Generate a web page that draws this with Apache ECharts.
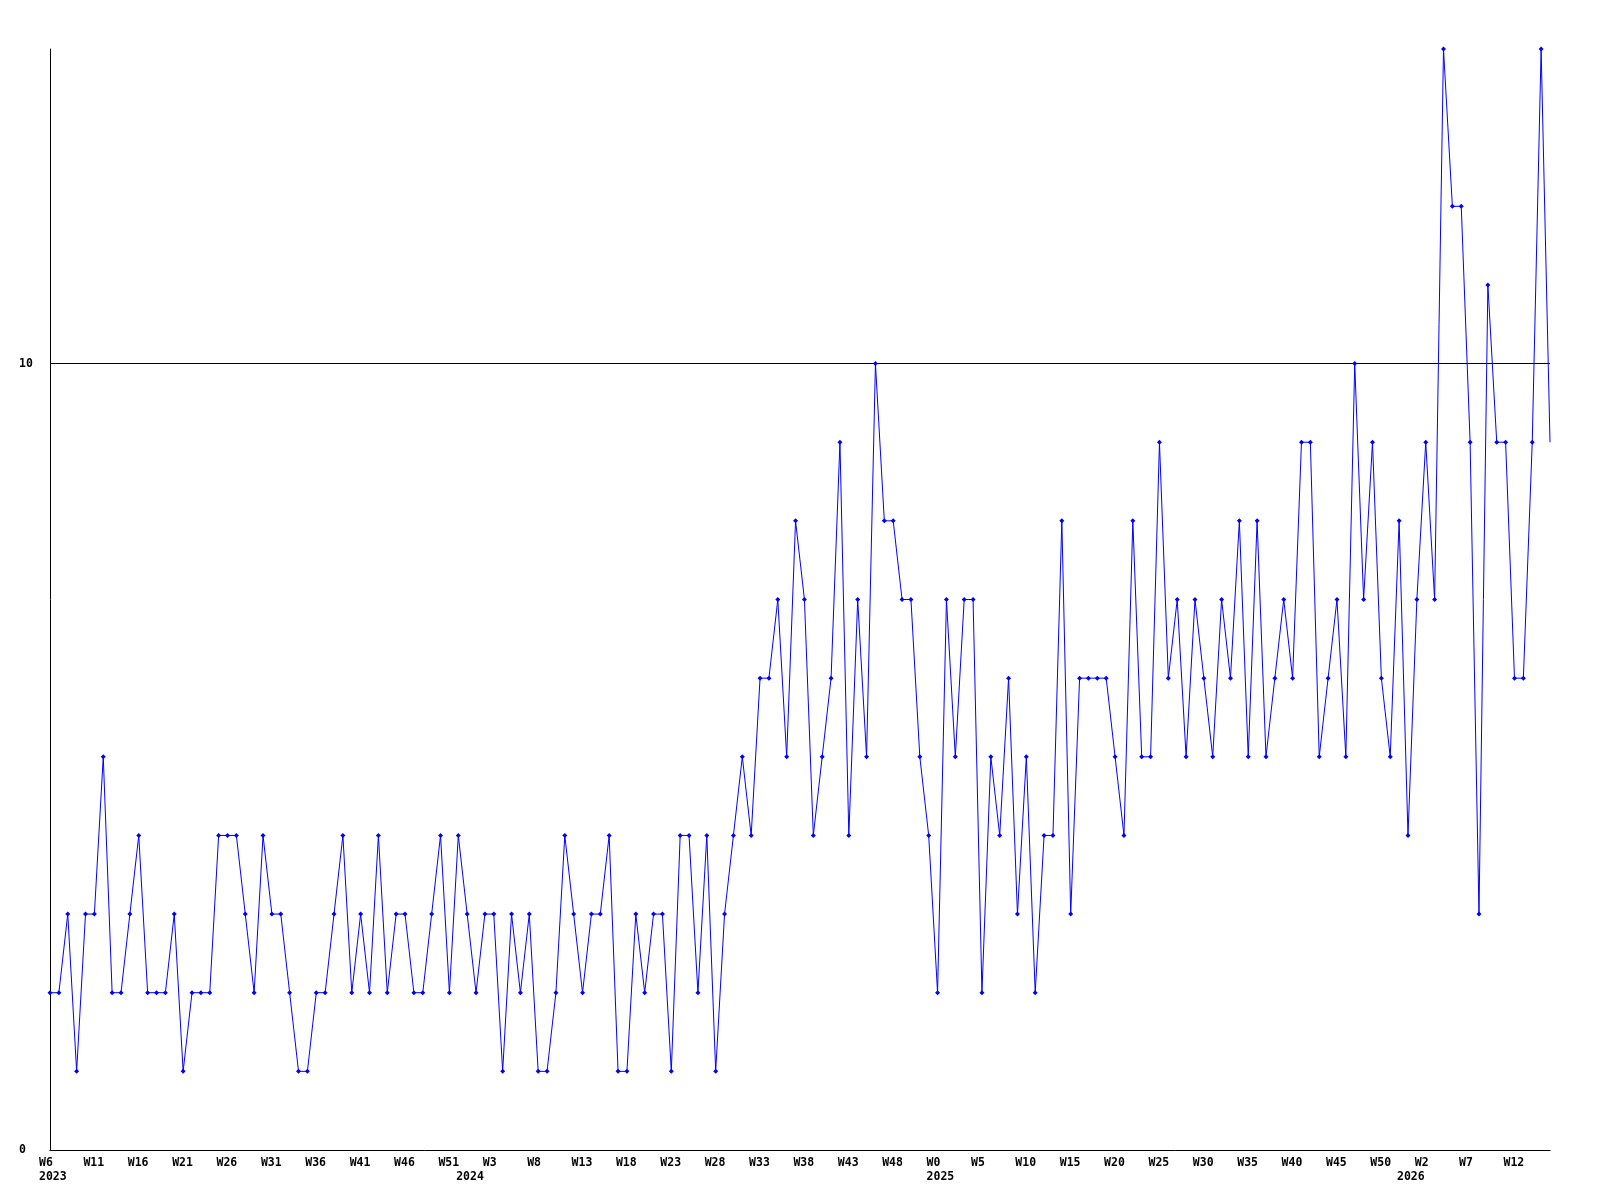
<!DOCTYPE html>
<html>
<head>
<meta charset="utf-8">
<script src="https://cdn.jsdelivr.net/npm/echarts@6/dist/echarts.min.js"></script>
<style>
html,body{margin:0;padding:0;background:#fff;}
#chart{width:1600px;height:1200px;}
</style>
</head>
<body>
<div id="chart"></div>
<script>
// Years and the week numbers covered in each
const years = ['2023', '2024', '2025', '2026'];
const weekFirst = [6, 0, 0, 0];
const weekLast = [52, 52, 52, 16];

// Weekly values per year
const values2023 = [2,2,3,1,3,3,5,2,2,3,4,2,2,2,3,1,2,2,2,4,4,4,3,2,4,3,3,2,1,1,2,2,3,4,2,3,2,4,2,3,3,2,2,3,4,2,4];
const values2024 = [3,2,3,3,1,3,2,3,1,1,2,4,3,2,3,3,4,1,1,3,2,3,3,1,4,4,2,4,1,3,4,5,4,6,6,7,5,8,7,4,5,6,9,4,7,5,10,8,8,7,7,5,4];
const values2025 = [2,7,5,7,7,2,5,4,6,3,5,2,4,4,8,3,6,6,6,6,5,4,8,5,5,9,6,7,5,7,6,5,7,6,8,5,8,5,6,7,6,9,9,5,6,7,5,10,7,9,6,5,8];
const values2026 = [4,7,9,7,14,12,12,9,3,11,9,9,6,6,9,14,9];

// Y axis tick labels
const yTickLabels = [0, 10];

const weekCats = [];
const yearCats = [];
const yearStartIdx = [];
years.forEach((y, k) => {
  yearStartIdx.push(weekCats.length);
  for (let w = weekFirst[k]; w <= weekLast[k]; w++) {
    weekCats.push('W' + w);
    yearCats.push(y + '|' + w);
  }
});
const values = values2023.concat(values2024, values2025, values2026);
const lastIdx = values.length - 1;

const font = {
  fontFamily: '"DejaVu Sans Mono", monospace',
  fontWeight: 'bold',
  fontSize: 11.5,
  color: '#000'
};

const chart = echarts.init(document.getElementById('chart'), null, {renderer: 'canvas'});
chart.setOption({
  animation: false,
  backgroundColor: '#fff',
  grid: {left: 50, right: 50, top: 49, bottom: 50, containLabel: false},
  xAxis: [
    {
      type: 'category',
      data: weekCats,
      boundaryGap: false,
      axisLine: {show: true, lineStyle: {color: '#000', width: 1}},
      axisTick: {show: false},
      splitLine: {show: false},
      axisLabel: Object.assign({
        interval: (i) => i % 5 === 0,
        align: 'left',
        margin: 7,
        padding: [0, 0, 0, -11]
      }, font)
    },
    {
      type: 'category',
      data: yearCats,
      boundaryGap: false,
      position: 'bottom',
      offset: 14,
      axisLine: {show: false},
      axisTick: {show: false},
      splitLine: {show: false},
      axisLabel: Object.assign({
        interval: (i) => yearStartIdx.indexOf(i) >= 0,
        formatter: (v) => v.split('|')[0],
        align: 'left',
        margin: 7,
        padding: [0, 0, 0, -11]
      }, font)
    }
  ],
  yAxis: {
    type: 'value',
    min: 0,
    max: 14,
    interval: 10,
    axisLine: {show: true, lineStyle: {color: '#000', width: 1}},
    axisTick: {show: false},
    splitLine: {show: true, lineStyle: {color: ['rgba(0,0,0,0)', '#000', 'rgba(0,0,0,0)'], width: 1}},
    axisLabel: Object.assign({
      formatter: (v) => (yTickLabels.indexOf(v) >= 0 ? String(v) : ''),
      align: 'left',
      margin: 31
    }, font)
  },
  series: [{
    type: 'line',
    data: values,
    xAxisIndex: 0,
    symbol: (v, p) => (p.dataIndex === lastIdx ? 'none' : 'diamond'),
    symbolSize: 5,
    showAllSymbol: true,
    itemStyle: {color: '#0000ff'},
    lineStyle: {color: '#0000ff', width: 1},
    emphasis: {disabled: true}
  }]
});
</script>
</body>
</html>
